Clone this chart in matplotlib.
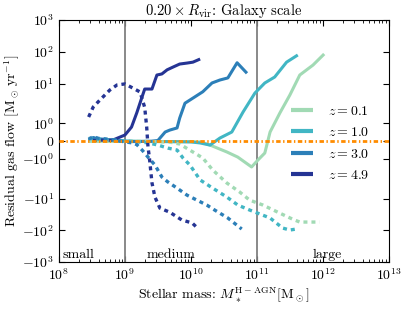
import numpy as np
import matplotlib
matplotlib.use("Agg")
import matplotlib.pyplot as plt
import matplotlib.transforms as mtransforms

plt.rcParams['font.family'] = 'serif'
plt.rcParams['font.serif'] = ['cmr10', 'DejaVu Serif']
plt.rcParams['mathtext.fontset'] = 'cm'
plt.rcParams['axes.unicode_minus'] = False
plt.rcParams['axes.formatter.use_mathtext'] = True
plt.rcParams['font.size'] = 10

# ---------------- data (log10 stellar mass, residual gas flow) ----------------
redshift_labels = ['$z = 0.1$', '$z = 1.0$', '$z = 3.0$', '$z = 4.9$']
colors = ['#a1dab4', '#41b6c4', '#2c7fb8', '#253494']

# z = 0.1
logm_z01_solid = [8.45, 8.8, 9.2, 9.6, 10.0, 10.14, 10.29, 10.545, 10.71, 10.92, 11.015,
                  11.12, 11.2, 11.35, 11.5, 11.65, 11.85, 12.02]
flow_z01_solid = [-0.01, -0.02, -0.02, -0.03, -0.04, -0.05, -0.23, -0.62, -0.91, -1.47, -1.08,
                  -0.68, 0.51, 1.6, 4.35, 18.5, 38, 85]
logm_z01_dot = [8.45, 8.8, 9.2, 9.5, 9.68, 9.83, 10.03, 10.18, 10.33, 10.545, 10.74, 10.89,
                11.09, 11.35, 11.545, 11.65, 11.95]
flow_z01_dot = [0.0, -0.01, -0.02, -0.04, -0.06, -0.17, -0.62, -0.96, -1.64, -3.25, -6.25,
                -11.2, -16, -29, -45, -55, -55]

# z = 1.0
logm_z10_solid = [8.45, 8.6, 8.8, 9.0, 9.2, 9.4, 9.6, 9.8, 10.0, 10.14, 10.29, 10.44, 10.62,
                  10.79, 10.97, 11.12, 11.27, 11.45, 11.62]
flow_z10_solid = [0.05, 0.1, 0.05, 0.0, -0.02, -0.03, -0.03, -0.04, -0.05, -0.11, -0.23, 0.17,
                  0.51, 1.64, 5.0, 10.4, 16, 47, 79]
logm_z10_dot = [8.45, 8.6, 8.8, 9.0, 9.2, 9.35, 9.5, 9.65, 9.79, 9.88, 9.985, 10.14, 10.33,
                10.545, 10.71, 10.89, 11.2, 11.39, 11.5, 11.6]
flow_z10_dot = [0.15, 0.1, 0.06, 0.0, -0.05, -0.1, -0.23, -0.4, -0.51, -0.96, -1.36, -2.6,
                -4.7, -9, -16, -23, -41, -85, -98, -91]

# z = 3.0
logm_z30_solid = [8.45, 8.52, 8.6, 8.7, 8.8, 8.9, 9.0, 9.1, 9.2, 9.3, 9.4, 9.5, 9.61, 9.68,
                  9.79, 9.83, 9.91, 10.06, 10.18, 10.32, 10.44, 10.56, 10.7, 10.85]
flow_z30_solid = [0.05, 0.2, 0.12, 0.1, 0.05, 0.0, -0.02, -0.03, -0.03, -0.02, -0.01, 0.03,
                  0.51, 0.62, 0.74, 1.3, 2.4, 3.8, 5.5, 10.4, 12.9, 15, 45, 21]
logm_z30_dot = [8.45, 8.52, 8.6, 8.7, 8.8, 8.9, 9.0, 9.1, 9.18, 9.26, 9.35, 9.455, 9.56, 9.65,
                9.79, 9.94, 10.09, 10.24, 10.36, 10.56, 10.77]
flow_z30_dot = [0.1, 0.25, 0.15, 0.12, 0.08, 0.02, -0.05, -0.1, -0.2, -0.51, -0.91, -1.36,
                -2.1, -3.0, -4.7, -7.8, -11.2, -16, -23, -41, -91]

# z = 4.9
logm_z49_solid = [8.45, 8.55, 8.65, 8.75, 8.82, 9.0, 9.1, 9.18, 9.26, 9.3, 9.41, 9.485, 9.56,
                  9.64, 9.73, 9.83, 9.94, 10.03, 10.14]
flow_z49_solid = [0.05, 0.03, 0.05, 0.04, 0.06, 0.34, 0.79, 1.6, 3.8, 6.7, 6.7, 18.5, 20,
                  27, 33, 41, 44, 47, 59]
logm_z49_dot = [8.45, 8.52, 8.62, 8.77, 8.88, 9.0, 9.12, 9.23, 9.30, 9.33, 9.35, 9.37, 9.41,
                9.455, 9.53, 9.68, 9.86, 10.02, 10.1]
flow_z49_dot = [1.36, 1.93, 3.0, 6.2, 9.0, 9.7, 7.2, 5.4, 1.9, 0.79, -0.34, -0.91, -3.2,
                -9, -20, -27, -47, -59, -85]

ytick_values = [-1000, -100, -10, -1, 0, 1, 10, 100, 1000]
ytick_labels = ['$-10^{3}$', '$-10^{2}$', '$-10^{1}$', '$-10^{0}$', '$0$',
                '$10^{0}$', '$10^{1}$', '$10^{2}$', '$10^{3}$']
regime_bounds = [1e9, 1e11]
regime_labels = ['small', 'medium', 'large']
regime_label_x = [1.15e8, 2.1e9, 7.0e11]

solid_series = [(logm_z01_solid, flow_z01_solid), (logm_z10_solid, flow_z10_solid),
                (logm_z30_solid, flow_z30_solid), (logm_z49_solid, flow_z49_solid)]
dot_series = [(logm_z01_dot, flow_z01_dot), (logm_z10_dot, flow_z10_dot),
              (logm_z30_dot, flow_z30_dot), (logm_z49_dot, flow_z49_dot)]

# ---------------- figure ----------------
fig = plt.figure(figsize=(4.15, 3.12), dpi=100)
ax = fig.add_axes([0.142, 0.160, 0.795, 0.776])

ax.set_xscale('log')
ax.set_yscale('symlog', linthresh=2, linscale=1)

for (lm, fl), c, lab in zip(solid_series, colors, redshift_labels):
    ax.plot(10 ** np.array(lm), fl, color=c, lw=2.2, label=lab, solid_capstyle='butt', zorder=3)
for (lm, fl), c in zip(dot_series, colors):
    ax.plot(10 ** np.array(lm), fl, color=c, lw=2.4, linestyle=(0, (1.2, 1.2)), zorder=3)

ax.axhline(0, color='#ff8c00', lw=2.0, linestyle=(0, (1.6, 0.9, 0.5, 0.9)), zorder=4)
for b in regime_bounds:
    ax.axvline(b, color='0.5', lw=1.3, zorder=2)

trans = mtransforms.blended_transform_factory(ax.transData, ax.transAxes)
for xt, lab in zip(regime_label_x, regime_labels):
    ax.text(xt, 0.005, lab, transform=trans, ha='left', va='bottom', fontsize=10)

ax.set_xlim(1e8, 1e13)
ax.set_ylim(-1000, 1000)
ax.set_yticks(ytick_values)
ax.set_yticklabels(ytick_labels)
ax.yaxis.set_minor_locator(matplotlib.ticker.NullLocator())
ax.tick_params(which='both', direction='in', top=True, right=True)
ax.tick_params(which='major', length=4, labelsize=10)
ax.tick_params(which='minor', length=2)

ax.set_xlabel(r'Stellar mass: $M_*^{\rm H-AGN}[\rm M_\odot]$', fontsize=10, labelpad=2)
ax.set_ylabel(r'Residual gas flow [$\rm M_\odot\,yr^{-1}$]', fontsize=10, labelpad=0)
ax.set_title(r'$0.20\times R_{\rm vir}$: Galaxy scale', fontsize=10.5, pad=3)

leg = ax.legend(loc='center right', frameon=False, fontsize=10, handlelength=1.6,
                handletextpad=1.1, labelspacing=0.6, bbox_to_anchor=(0.98, 0.49))
for line in leg.get_lines():
    line.set_linewidth(3)

fig.savefig('out.png', dpi=100)
